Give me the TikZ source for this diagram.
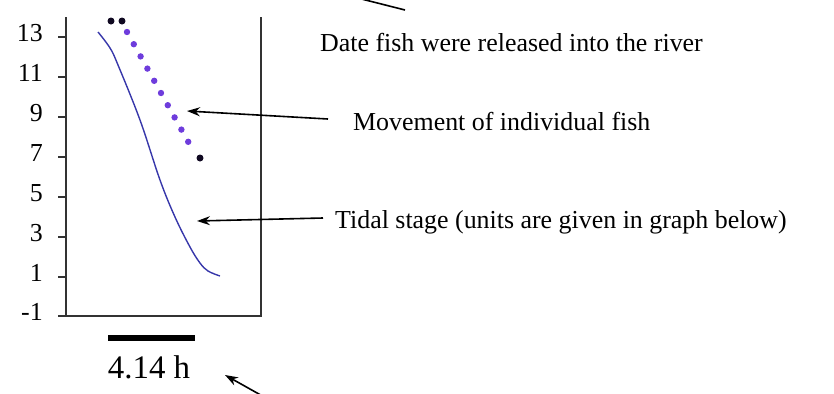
\documentclass[tikz,border=0pt]{standalone}
\usepackage{fontspec}
\setmainfont{Liberation Serif}
\usetikzlibrary{arrows.meta}
\definecolor{tidecol}{RGB}{55,55,170}
\definecolor{fishcol}{RGB}{110,60,220}
\begin{document}
\begin{tikzpicture}[x=1bp,y=-1bp,
  axisline/.style={line width=1.8bp,draw=black!80},
  tickline/.style={line width=1.4bp,draw=black!80},
  ticklab/.style={anchor=base east,inner sep=0pt,font=\fontsize{26}{30}\selectfont},
  label/.style={anchor=base west,inner sep=0pt,font=\fontsize{26}{30}\selectfont},
  arr/.style={line width=1.6bp,-{Stealth[length=13bp,width=9bp]}},
  tide/.style={line width=1.4bp,draw=tidecol},
  fishdot/.style={fill=fishcol,draw=none},
  enddot/.style={fill=black!85!fishcol,draw=none}]
\useasboundingbox (0,0) rectangle (834,393);
\clip (0,0) rectangle (834,393);
% axes
\draw[axisline] (66,17) -- (66,316);
\draw[axisline] (261,17) -- (261,316);
\draw[axisline,line width=2.4bp] (58,316) -- (262,316);
% ticks and tick labels
\foreach \v/\yy in {13/37,11/77,9/117,7/157,5/197,3/237,1/277,-1/316}{
  \draw[tickline] (58,\yy) -- (66,\yy);
  \node[ticklab] (t\v) at (43,\yy+4.5) {\v};
}
% tidal stage curve
\draw[tide] plot[smooth,tension=0.6] coordinates {(98,32) (110,48) (118,65) (140,120) (160,180) (175,217) (190,247) (200,263) (208,271) (220,276)};
% fish movement dots
\fill[enddot] (111,21) circle (3.5);
\fill[enddot] (122,21) circle (3.5);
\foreach \i in {0,...,9}{
  \fill[fishdot] ({127+6.8*\i},{32+12.2*\i}) circle (3.2);
}
\fill[enddot] (200,158) circle (3.5);
% labels
\node[label] (lrel) at (320,51) {Date fish were released into the river};
\node[label] (lmove) at (353,130) {Movement of individual fish};
\node[label] (ltide) at (335,228) {Tidal stage (units are given in graph below)};
% scale bar
\draw[line width=6bp] (108,338) -- (195,338);
\node[anchor=base,inner sep=0pt,font=\fontsize{33}{38}\selectfont] (lbar) at (149,378) {4.14 h};
% arrows
\coordinate (relS) at (405,10);
\coordinate (relT) at (330,-9);
\draw[arr] (relS) -- (relT);
\coordinate (mvS) at (328,119);
\coordinate (mvT) at (187,111);
\draw[arr] (mvS) -- (mvT);
\coordinate (tdS) at (323,218);
\coordinate (tdT) at (197,221);
\draw[arr] (tdS) -- (tdT);
\coordinate (btS) at (266,398);
\coordinate (btT) at (225,375);
\draw[arr] (btS) -- (btT);
\end{tikzpicture}
\end{document}
